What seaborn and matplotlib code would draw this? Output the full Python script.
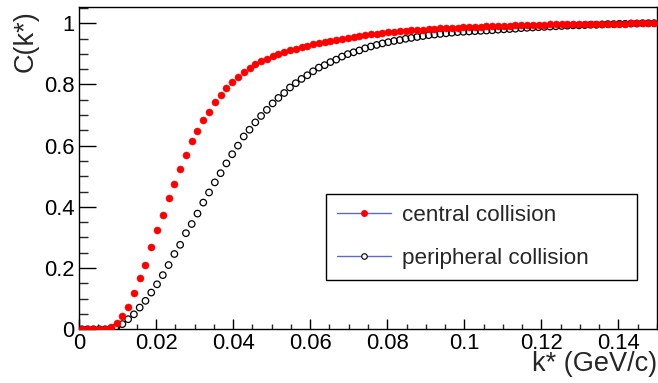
import numpy as np
import pandas as pd
import matplotlib
matplotlib.use("Agg")
import matplotlib.pyplot as plt
from matplotlib.lines import Line2D
from matplotlib.ticker import MultipleLocator, FuncFormatter
import seaborn as sns

# ---- data -------------------------------------------------------------
# histogram bin centres: 100 bins from 0 to 0.15 GeV/c
bin_edges = np.linspace(0.0, 0.15, 101)
kstar = 0.5 * (bin_edges[:-1] + bin_edges[1:])

central = [
    0.000, 0.000, 0.000, 0.000, 0.002,
    0.008, 0.020, 0.043, 0.074, 0.117,
    0.166, 0.210, 0.268, 0.324, 0.375,
    0.430, 0.475, 0.523, 0.571, 0.614,
    0.649, 0.683, 0.711, 0.741, 0.766,
    0.788, 0.807, 0.824, 0.839, 0.854,
    0.866, 0.875, 0.884, 0.892, 0.900,
    0.906, 0.913, 0.917, 0.923, 0.927,
    0.931, 0.936, 0.939, 0.942, 0.946,
    0.949, 0.953, 0.956, 0.959, 0.962,
    0.964, 0.966, 0.968, 0.970, 0.972,
    0.974, 0.975, 0.977, 0.978, 0.979,
    0.981, 0.982, 0.983, 0.984, 0.985,
    0.986, 0.987, 0.988, 0.988, 0.989,
    0.990, 0.991, 0.991, 0.992, 0.992,
    0.993, 0.993, 0.994, 0.994, 0.995,
    0.995, 0.996, 0.996, 0.996, 0.997,
    0.997, 0.997, 0.998, 0.998, 0.998,
    0.998, 0.999, 0.999, 0.999, 0.999,
    1.000, 1.000, 1.000, 1.000, 1.000,
]

peripheral = [
    0.000, 0.000, 0.000, 0.000, 0.000,
    0.002, 0.009, 0.017, 0.033, 0.049,
    0.071, 0.093, 0.120, 0.147, 0.177,
    0.210, 0.246, 0.276, 0.314, 0.344,
    0.378, 0.414, 0.447, 0.480, 0.510,
    0.542, 0.572, 0.600, 0.630, 0.652,
    0.676, 0.697, 0.717, 0.738, 0.756,
    0.772, 0.790, 0.804, 0.818, 0.830,
    0.843, 0.855, 0.863, 0.873, 0.881,
    0.891, 0.899, 0.905, 0.911, 0.918,
    0.924, 0.929, 0.934, 0.938, 0.942,
    0.945, 0.949, 0.952, 0.955, 0.958,
    0.961, 0.963, 0.965, 0.967, 0.969,
    0.971, 0.972, 0.973, 0.974, 0.975,
    0.976, 0.977, 0.979, 0.980, 0.981,
    0.982, 0.984, 0.985, 0.986, 0.987,
    0.988, 0.989, 0.990, 0.991, 0.992,
    0.993, 0.993, 0.994, 0.995, 0.995,
    0.996, 0.997, 0.997, 0.998, 0.998,
    0.999, 0.999, 1.000, 1.000, 1.000,
]

labels = ["central collision", "peripheral collision"]
x_title = "k* (GeV/c)"
y_title = "C(k*)"

df_c = pd.DataFrame({"k": kstar, "C": central})
df_p = pd.DataFrame({"k": kstar, "C": peripheral})

# ---- style ------------------------------------------------------------
sns.set_style("white")
plt.rcParams["font.family"] = ["Liberation Sans", "DejaVu Sans"]

W, H = 658, 383
fig = plt.figure(figsize=(W / 100, H / 100), dpi=100)
ax = fig.add_axes([79 / W, 1 - 329.3 / H, 578 / W, 322 / H])

# peripheral (open black circles) below, central (red) on top
sns.scatterplot(data=df_p, x="k", y="C", ax=ax, marker="o", s=22,
                facecolor="none", edgecolor="black", linewidth=0.9,
                legend=False, zorder=3)
sns.scatterplot(data=df_c, x="k", y="C", ax=ax, marker="o", s=26,
                color="#ff0000", edgecolor="#ff0000", linewidth=0.3,
                legend=False, zorder=4)

ax.set_xlim(0, 0.15)
ax.set_ylim(0, 1.052)

for s in ax.spines.values():
    s.set_color("black")
    s.set_linewidth(1.0)
    s.set_visible(True)

ax.xaxis.set_major_locator(MultipleLocator(0.02))
ax.xaxis.set_minor_locator(MultipleLocator(0.005))
ax.yaxis.set_major_locator(MultipleLocator(0.2))
ax.yaxis.set_minor_locator(MultipleLocator(0.05))
fmt = FuncFormatter(lambda v, p: "%g" % round(v, 4))
ax.xaxis.set_major_formatter(fmt)
ax.yaxis.set_major_formatter(fmt)

ax.tick_params(axis="x", which="major", direction="in", length=7, width=1,
               bottom=True, top=False, labelsize=15.8, pad=3, colors="black")
ax.tick_params(axis="x", which="minor", direction="in", length=3.6, width=1,
               bottom=True, top=False)
ax.tick_params(axis="y", which="major", direction="in", length=12.5, width=1,
               left=True, right=False, labelsize=15.8, pad=3, colors="black")
ax.tick_params(axis="y", which="minor", direction="in", length=6.2, width=1,
               left=True, right=False)

ax.set_xlabel(x_title, fontsize=19.5, loc="right")
ax.xaxis.set_label_coords(1.0, -0.068)
ax.set_ylabel(y_title, fontsize=19.5, loc="top")
ax.yaxis.set_label_coords(-0.07, 0.99)

line_col = "#6068c8"
handles = [
    Line2D([], [], color=line_col, lw=1.0, marker="o", markersize=4.0,
           markerfacecolor="#ff0000", markeredgecolor="#ff0000"),
    Line2D([], [], color=line_col, lw=1.0, marker="o", markersize=4.0,
           markerfacecolor="white", markeredgecolor="black", markeredgewidth=0.8),
]
leg = ax.legend(handles, labels, loc="center",
                bbox_to_anchor=(0.427, 0.157, 0.538, 0.26), mode="expand",
                borderaxespad=0, fontsize=16.2, frameon=True, fancybox=False,
                handlelength=2.4, handletextpad=0.5, borderpad=0.5,
                labelspacing=0.95, numpoints=1)
leg.get_frame().set_edgecolor("black")
leg.get_frame().set_linewidth(1.0)
leg.get_frame().set_facecolor("white")
leg.get_frame().set_alpha(1)

fig.savefig("out.png", dpi=100)
